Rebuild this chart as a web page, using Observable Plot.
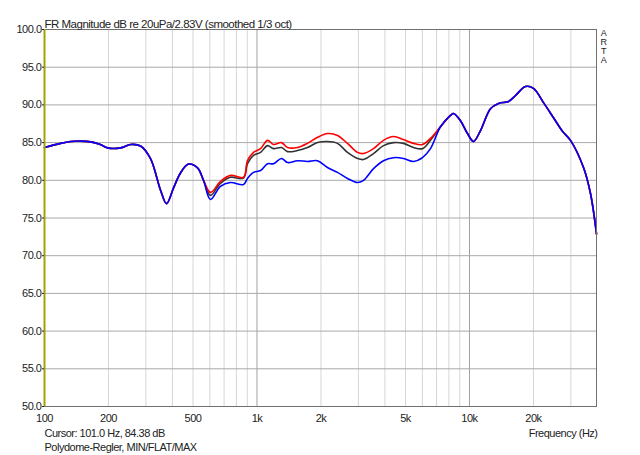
<!DOCTYPE html>
<html><head><meta charset="utf-8">
<script src="https://cdn.jsdelivr.net/npm/d3@7"></script>
<script src="https://cdn.jsdelivr.net/npm/@observablehq/plot@0.6"></script>
<style>body{margin:0;background:#fff} svg{display:block}</style>
</head><body><div id="chart"></div>
<script>
// Shared part (all three curves identical)
const freqLow = [100,119,133,148,165,183,198,228,254,283,315,352,375,405,437,476,525,560];
const dbLow   = [84.35,84.9,85.15,85.2,85.1,84.75,84.3,84.3,84.75,84.55,82.9,78.65,76.9,79.0,81.0,82.15,81.65,80.0];
// Mid region where MIN / FLAT / MAX differ
const freqMid = [604,673,750,864,902,963,1039,1121,1196,1304,1392,1551,1729,1926,2147,2392,2666,2971,3171,3534,3938,4389,4891,5451,6008,6553];
const maxMid  = [78.4,79.85,80.65,80.4,82.6,83.7,84.2,85.3,84.75,85.0,84.35,84.35,84.9,85.7,86.2,85.95,84.9,83.7,83.55,84.2,85.3,85.8,85.4,84.9,84.75,85.55];
const flatMid = [78.0,79.6,80.4,80.3,82.2,83.3,83.7,84.6,84.2,84.35,83.8,83.95,84.35,85.0,85.15,84.9,83.7,82.9,82.75,83.55,84.6,85.0,84.9,84.35,84.2,85.3];
const minMid  = [77.45,79.2,79.7,79.45,80.25,81.05,81.3,82.2,82.2,82.9,82.35,82.6,82.5,82.6,81.7,81.05,80.25,79.7,80.0,81.55,82.6,83.0,82.9,82.5,83.0,84.2];
// Shared high part
const freqHigh = [7303,8139,8407,9071,9786,10443,11267,12556,13697,15264,16468,18349,20011,22301,24854,27391,29880,34397,37104,39600];
const dbHigh   = [87.1,88.6,88.85,87.9,86.2,85.15,86.6,89.5,90.2,90.45,91.25,92.45,92.2,90.3,88.3,86.5,85.3,81.7,78.25,72.9];

const xTicks = [100,200,500,1000,2000,5000,10000,20000];
const xTickLabels = ["100","200","500","1k","2k","5k","10k","20k"];
const minorFreqs = [200,300,400,500,600,700,800,900,2000,3000,4000,5000,6000,7000,8000,9000,20000,30000];
const decadeFreqs = [1000,10000];
const yTicks = [50,55,60,65,70,75,80,85,90,95,100];
const artaLetters = ["A","R","T","A"];

function series(mid) {
  const f = [...freqLow, ...freqMid, ...freqHigh];
  const d = [...dbLow, ...mid, ...dbHigh];
  return f.map((x, i) => ({f: x, db: d[i]}));
}
const flat = series(flatMid), maxS = series(maxMid), minS = series(minMid);
const xLabels = xTicks.map((t, i) => ({f: t, label: xTickLabels[i]}));

const font = "'Liberation Sans', Arial, sans-serif";
const ink = "#222";

const chart = Plot.plot({
  width: 640, height: 455,
  marginLeft: 44, marginRight: 44, marginTop: 29, marginBottom: 49,
  style: {fontFamily: font, fontSize: "11px", color: ink, background: "#fff", letterSpacing: "-0.5px"},
  x: {type: "log", domain: [100, 39600], axis: null},
  y: {domain: [50, 100]},
  marks: [
    Plot.ruleX(minorFreqs, {stroke: "#d6d6d6", strokeWidth: 1}),
    Plot.ruleX(decadeFreqs, {stroke: "#a0a0a0", strokeWidth: 1}),
    Plot.ruleY(yTicks.slice(1, -1), {stroke: "#a8a8a8", strokeWidth: 1}),
    Plot.line(flat, {x: "f", y: "db", stroke: "#333", strokeWidth: 1.6, curve: "catmull-rom"}),
    Plot.line(maxS, {x: "f", y: "db", stroke: "#ff0000", strokeWidth: 1.6, curve: "catmull-rom"}),
    Plot.line(minS, {x: "f", y: "db", stroke: "#0000ff", strokeWidth: 1.6, curve: "catmull-rom"}),
    Plot.frame({stroke: "#707070", strokeWidth: 1}),
    Plot.ruleX([100], {stroke: "#a3a300", strokeWidth: 2}),
    Plot.text(xLabels, {x: "f", text: "label", frameAnchor: "bottom", dy: 15, fill: ink}),
    Plot.axisY({ticks: yTicks, tickFormat: d => d.toFixed(1), tickSize: 2, tickPadding: 1, fontSize: 11, label: null, fill: ink}),
    Plot.text(["FR Magnitude dB re 20uPa/2.83V (smoothed 1/3 oct)"], {frameAnchor: "top-left", textAnchor: "start", dy: -10, fontSize: 11.5, fill: ink}),
    Plot.text(["Cursor: 101.0 Hz, 84.38 dB"], {frameAnchor: "bottom-left", textAnchor: "start", dy: 30, fill: ink}),
    Plot.text(["Polydome-Regler, MIN/FLAT/MAX"], {frameAnchor: "bottom-left", textAnchor: "start", dy: 44, fill: ink}),
    Plot.text(["Frequency (Hz)"], {frameAnchor: "bottom-right", textAnchor: "end", dy: 30, dx: 1, fill: ink}),
    ...artaLetters.map((ch, i) => Plot.text([ch], {frameAnchor: "top-right", textAnchor: "middle", lineAnchor: "top", fontSize: 9, dx: 7, dy: i * 9, fill: ink}))
  ]
});
document.getElementById("chart").appendChild(chart);
</script>
</body></html>
